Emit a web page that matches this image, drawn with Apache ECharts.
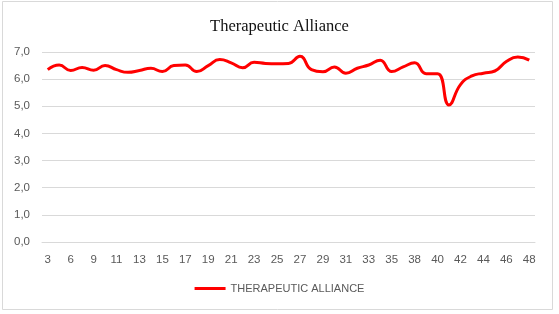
<!DOCTYPE html>
<html><head><meta charset="utf-8">
<script src="https://cdn.jsdelivr.net/npm/echarts@6/dist/echarts.min.js"></script>
<style>html,body{margin:0;padding:0;background:#fff}#c{width:559px;height:314px}</style>
</head><body><div id="c"></div>
<script>
const titleText = 'Therapeutic Alliance';
const seriesName = 'THERAPEUTIC ALLIANCE';
const categories = [3,5,6,8,9,10,11,12,13,14,15,16,17,18,19,20,21,22,23,24,25,26,27,28,29,30,31,32,33,34,35,37,38,39,40,41,42,43,44,45,46,47,48];
const values = [6.35,6.52,6.32,6.43,6.33,6.5,6.35,6.25,6.32,6.4,6.28,6.5,6.52,6.28,6.5,6.72,6.6,6.42,6.62,6.58,6.57,6.58,6.84,6.35,6.27,6.45,6.22,6.4,6.52,6.7,6.28,6.45,6.6,6.2,6.2,5.05,5.8,6.12,6.22,6.3,6.65,6.82,6.7];
const yTicks = {min:0, max:7, interval:1};

const chart = echarts.init(document.getElementById('c'));
chart.setOption({
  animation:false,
  backgroundColor:'#fff',
  graphic:[{type:'rect',shape:{x:2.5,y:1.5,width:550,height:308},style:{fill:'none',stroke:'#d9d9d9',lineWidth:1},silent:true}],
  title:{text:titleText,left:'center',top:13,textStyle:{fontFamily:'Liberation Serif',fontSize:16.5,fontWeight:'normal',color:'#111'}},
  grid:{left:42,right:24,top:52,bottom:72,containLabel:false},
  xAxis:{type:'category',data:categories,boundaryGap:true,
    axisLine:{show:true,lineStyle:{color:'#d9d9d9'}},axisTick:{show:false},
    axisLabel:{interval:1,color:'#595959',fontFamily:'Liberation Sans',fontSize:11.5,margin:12}},
  yAxis:{type:'value',min:yTicks.min,max:yTicks.max,interval:yTicks.interval,
    axisLine:{show:false},axisTick:{show:false},
    splitLine:{lineStyle:{color:'#d9d9d9',width:1}},
    axisLabel:{color:'#595959',fontFamily:'Liberation Sans',fontSize:11.5,margin:12,formatter:v=>v.toFixed(1).replace('.',',')}},
  legend:{bottom:15,left:'center',icon:'rect',itemWidth:31,itemHeight:3,itemGap:3,
    textStyle:{color:'#595959',fontFamily:'Liberation Sans',fontSize:11},data:[seriesName]},
  series:[{name:seriesName,type:'line',data:values,smooth:true,symbol:'none',
    lineStyle:{color:'#ff0000',width:3},itemStyle:{color:'#ff0000'}}]
});
</script></body></html>
